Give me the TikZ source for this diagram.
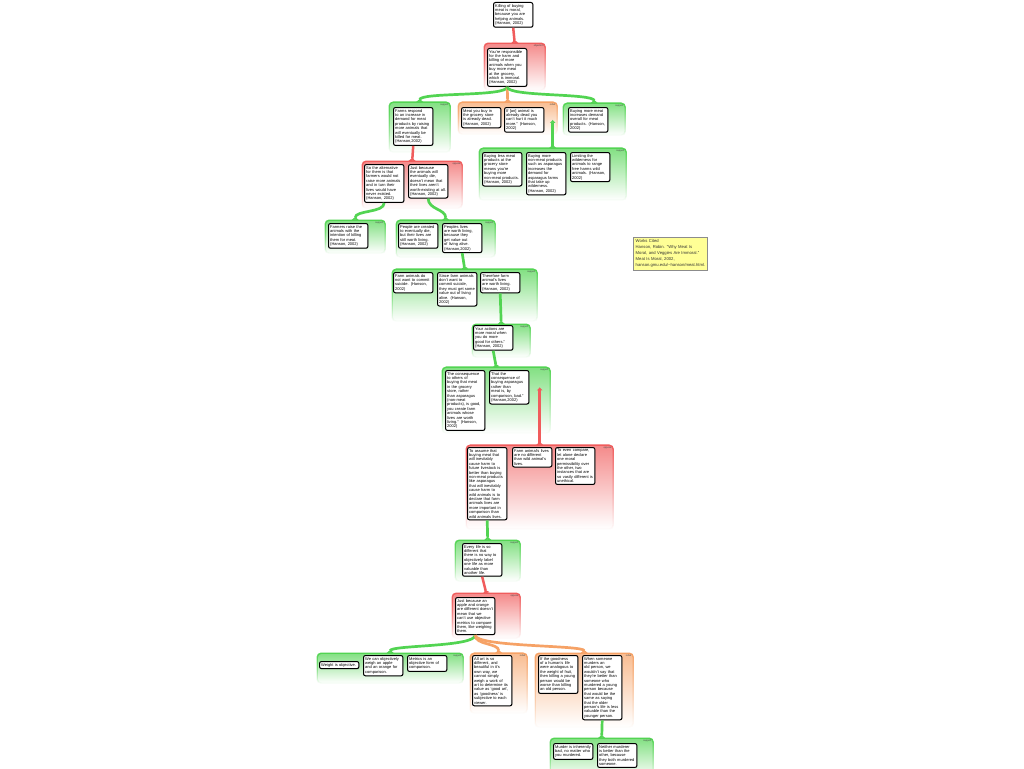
\documentclass[tikz,border=0pt]{standalone}
\usepackage{fontspec}
\setmainfont{Liberation Sans}
\usepackage{tikz}
\usetikzlibrary{arrows.meta,shadows,fadings}

\hyphenpenalty=10000
\exhyphenpenalty=10000

\definecolor{supportgreen}{RGB}{82,212,82}
\definecolor{opposered}{RGB}{240,92,92}
\definecolor{rebutorange}{RGB}{246,162,102}
\definecolor{noteyellow}{RGB}{255,255,150}

\tikzset{
  claim/.style={draw, line width=1pt, rounded corners=2pt, fill=white, anchor=north west,
    text width=36pt, inner sep=1.7pt, align=left, font=\fontsize{4}{4.4}\selectfont,
    drop shadow={shadow xshift=0.6pt, shadow yshift=-0.6pt, opacity=0.35}},
  tag/.style={font=\fontsize{2.4}{2.6}\selectfont, inner sep=1.8pt, text=black!75},
  groupbox/.style={anchor=north west, inner sep=0pt, rounded corners=4pt,
    top color=#1!72, bottom color=white,
    postaction={draw=#1, line width=1.4pt, path fading=south}},
  supportbox/.style={groupbox=supportgreen, label={[tag, anchor=north east]north east:support}},
  opposebox/.style={groupbox=opposered, label={[tag, anchor=north east]north east:oppose}},
  objectbox/.style={groupbox=opposered, label={[tag, anchor=north east]north east:objection}},
  rebutbox/.style={groupbox=rebutorange, label={[tag, anchor=north east]north east:rebut}},
  flare/.tip={Triangle[reversed, width=7pt, length=3pt]},
  greenlink/.style={draw=supportgreen, line width=2.7pt, -flare},
  redlink/.style={draw=opposered, line width=2.5pt, -flare},
  orangelink/.style={draw=rebutorange, line width=2.7pt, -flare},
  note/.style={anchor=north west, fill=noteyellow, draw=black!45, text width=69pt, inner sep=2.5pt,
    align=left, font=\fontsize{4.2}{6}\selectfont, text=black!80,
    drop shadow={shadow xshift=1pt, shadow yshift=-1pt, opacity=0.4}}
}

\begin{document}
\begin{tikzpicture}[x=1pt, y=-1pt]
  \fill[white] (0,0) rectangle (1024,768);
  \useasboundingbox (0,0) rectangle (1024,768);
  \clip (0,0) rectangle (1024,768);

  % groups
  \node[objectbox, minimum width=61pt, minimum height=47pt] (g1) at (484,43) {};
  \node[supportbox, minimum width=61pt, minimum height=50pt] (g2) at (389,102) {};
  \node[rebutbox, minimum width=99pt, minimum height=32pt] (g3) at (458,102) {};
  \node[supportbox, minimum width=62pt, minimum height=32pt] (g4) at (563,103) {};
  \node[supportbox, minimum width=147pt, minimum height=52pt] (g5) at (479,148) {};
  \node[opposebox, minimum width=100pt, minimum height=47pt] (g6) at (362,161) {};
  \node[supportbox, minimum width=60pt, minimum height=33pt] (g7) at (325,220) {};
  \node[supportbox, minimum width=99pt, minimum height=37pt] (g8) at (396,220) {};
  \node[supportbox, minimum width=145pt, minimum height=52pt] (g9) at (392,269) {};
  \node[supportbox, minimum width=58pt, minimum height=33pt] (g10) at (472,324) {};
  \node[supportbox, minimum width=108pt, minimum height=66pt] (g11) at (442,367) {};
  \node[opposebox, minimum width=147pt, minimum height=84pt] (g12) at (466,445) {};
  \node[supportbox, minimum width=65pt, minimum height=41pt] (g13) at (455,540) {};
  \node[opposebox, minimum width=68pt, minimum height=45pt] (g14) at (452,593) {};
  \node[supportbox, minimum width=146pt, minimum height=30pt] (g15) at (317,653) {};
  \node[rebutbox, minimum width=57pt, minimum height=60pt] (g16) at (470,653) {};
  \node[rebutbox, minimum width=98pt, minimum height=74pt] (g17) at (535,653) {};
  \node[supportbox, minimum width=103pt, minimum height=40pt] (g18) at (550,738) {};

  % claims
  \node[claim] (n1) at (493,2) {Killing of buying meat is moral, because you are helping animals. (Hanson, 2002)};
  \node[claim] (n2) at (487,48) {You're responsible for the harm and killing of more animals when you buy more meat at the grocery, which is immoral. (Hanson, 2002)};
  \node[claim] (n3) at (393,107) {Farms respond to an increase in demand for meat products by raising more animals that will eventually be killed for meat. (Hanson,2002)};
  \node[claim] (n4) at (461,107) {Meat you buy in the grocery store is already dead. (Hanson, 2002)};
  \node[claim] (n5) at (504,107) {If [an] animal is already dead you can't hurt it much more.” (Hanson, 2002)};
  \node[claim] (n6) at (568,107) {Buying more meat increases demand overall for meat products. (Hanson, 2002)};
  \node[claim] (n7) at (482,152) {Buying less meat products at the grocery store means you're buying more non-meat products. (Hanson, 2002)};
  \node[claim] (n8) at (526,152) {Buying more non-meat products such as asparagus increases the demand for asparagus farms that take up wilderness. (Hanson, 2002)};
  \node[claim] (n9) at (570,152) {Limiting the wilderness for animals to range free harms wild animals. (Hanson, 2002)};
  \node[claim] (n10) at (364,164) {So the alternative for them is that farmers would not raise more animals and in turn their lives would have never existed. (Hanson, 2002)};
  \node[claim] (n11) at (408,164) {Just because the animals will eventually die, doesn't mean that their lives aren't worth-existing at all. (Hanson, 2002)};
  \node[claim] (n12) at (328,223) {Farmers raise the animals with the intention of killing them for meat. (Hanson, 2002)};
  \node[claim] (n13) at (398,223) {People are created to eventually die, but their lives are still worth living. (Hanson, 2002)};
  \node[claim] (n14) at (442,223) {Peoples lives are worth living, because they get value out of living alive. (Hanson,2002)};
  \node[claim] (n15) at (393,272) {Farm animals do not want to commit suicide. (Hanson, 2002)};
  \node[claim] (n16) at (437,272) {Since farm animals don't want to commit suicide, they must get some value out of living alive. (Hanson, 2002)};
  \node[claim] (n17) at (480,272) {Therefore farm animal's lives are worth living. (Hanson, 2002)};
  \node[claim] (n18) at (473,325) {Your actions are more moral when you do more good for others.” (Hanson, 2002)};
  \node[claim] (n19) at (445,370) {The consequence to others of buying that meat in the grocery store, rather than asparagus (non-meat products), is good, you create farm animals whose lives are worth living.” (Hanson, 2002)};
  \node[claim] (n20) at (489,370) {That the consequence of buying asparagus rather than meat is, by comparison, bad.” (Hanson,2002)};
  \node[claim] (n21) at (467,447) {To assume that buying meat that will inevitably cause harm to future livestock is better than buying non-meat products like asparagus that will inevitably cause harm to wild animals is to declare that farm animals lives are more important in comparison than wild animals lives.};
  \node[claim] (n22) at (512,447) {Farm animal's lives are no different than wild animal's lives.};
  \node[claim] (n23) at (555,447) {To even compare, let alone declare one moral permissibility over the other, two instances that are so vastly different is unethical.};
  \node[claim] (n24) at (462,543) {Every life is so different that there is no way to objectively label one life as more valuable than another life.};
  \node[claim] (n25) at (455,597) {Just because an apple and orange are different doesn't mean that we can't use objective metrics to compare them, like weighing them.};
  \node[claim] (n26) at (319,661) {Weight is objective.};
  \node[claim] (n27) at (363,655) {We can objectively weigh an apple and an orange for comparison.};
  \node[claim] (n28) at (407,655) {Metrics is an objective form of comparison.};
  \node[claim] (n29) at (472,655) {All art is so different, and beautiful in it's own way, we cannot simply weigh a work of art to determine its value as 'good art', as 'goodness' is subjective to each viewer.};
  \node[claim] (n30) at (538,655) {If the goodness of a human's life were analogous to the weight of fruit, then killing a young person would be worse than killing an old person.};
  \node[claim] (n31) at (582,655) {When someone murders an old person, we wouldn't say that they're better than someone who murdered a young person because that would be the same as saying that the older person's life is less valuable than the younger person.};
  \node[claim] (n32) at (553,743) {Murder is inherently bad, no matter who you murdered.};
  \node[claim] (n33) at (597,743) {Neither murderer is better than the other, because they both murdered someone.};

  % works cited
  \node[note] (wc) at (633,237) {Works Cited\\ Hanson, Robin. “Why Meat Is\\ Moral, and Veggies Are Immoral.”\\ Meat Is Moral, 2002,\\ hanson.gmu.edu/\textasciitilde hanson/meat.html.};

  % links
  \draw[redlink] (n1.south) -- (g1.north);
  \draw[greenlink] (n2.south) .. controls +(0,10) and +(0,-10) .. (g2.north);
  \draw[orangelink] (n2.south) -- (g3.north);
  \draw[greenlink] (n2.south) .. controls +(0,10) and +(0,-10) .. (g4.north);
  \coordinate (a3) at (g5.north |- n5.center);
  \draw[greenlink, flare-{Latex[length=3pt, width=6pt]}] (g5.north) -- (a3);
  \draw[redlink] (n3.south) -- (g6.north);
  \draw[greenlink] (n10.south) .. controls +(0,10) and +(0,-10) .. (g7.north);
  \draw[greenlink] (n11.south) .. controls +(0,11) and +(0,-11) .. (g8.north);
  \draw[greenlink] (n14.south) -- (g9.north);
  \draw[greenlink] (n17.south) -- (g10.north);
  \draw[greenlink] (n18.south) -- (g11.north);
  \coordinate (a11) at (g12.north |- n20.center);
  \draw[redlink, flare-{Latex[length=3pt, width=6pt]}] (g12.north) -- (a11);
  \draw[greenlink] (n21.south) -- (g13.north);
  \draw[redlink] (n24.south) -- (g14.north);
  \draw[greenlink] (n25.south) .. controls +(0,12) and +(0,-8) .. (g15.north);
  \draw[orangelink] (n25.south) .. controls +(0,10) and +(0,-10) .. (g16.north);
  \draw[orangelink] (n25.south) .. controls +(0,12) and +(0,-8) .. (g17.north);
  \draw[greenlink] (n31.south) -- (g18.north);
\end{tikzpicture}
\end{document}
